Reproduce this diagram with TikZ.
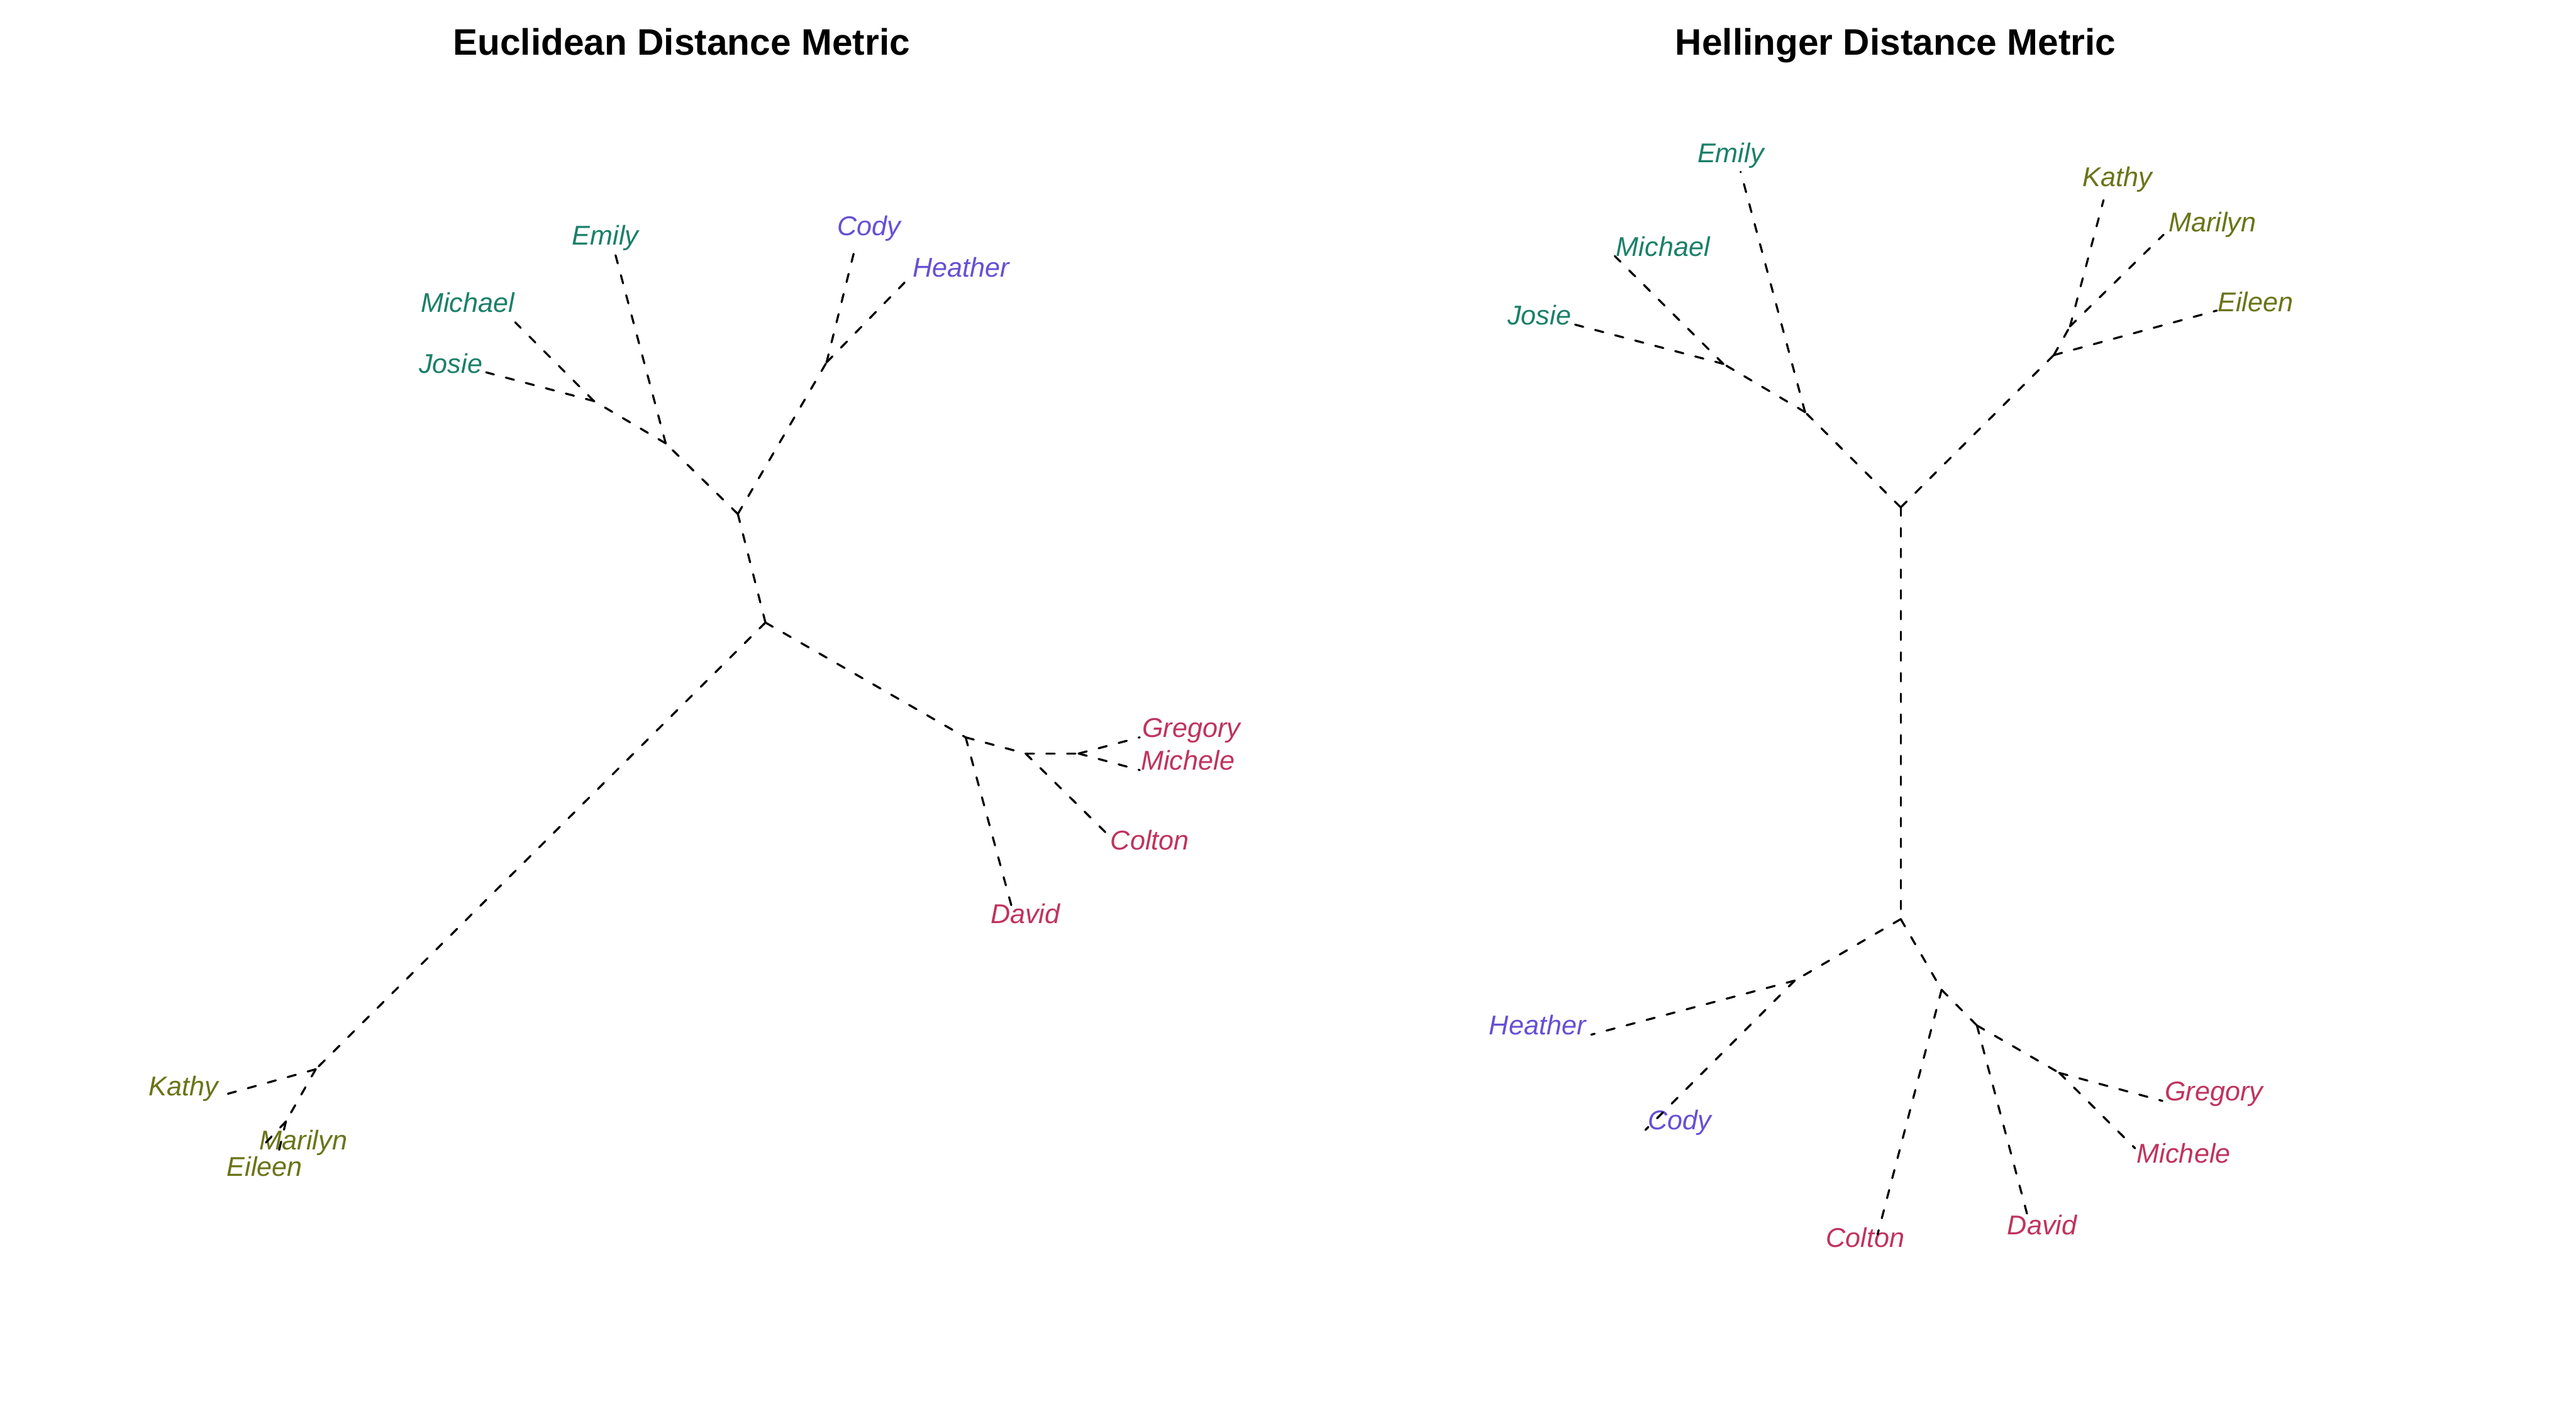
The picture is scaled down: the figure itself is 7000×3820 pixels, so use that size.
\documentclass[tikz,border=0pt]{standalone}
\usepackage{fontspec}
\setmainfont{Liberation Sans}
\definecolor{grpteal}{HTML}{1B8068}
\definecolor{grpviolet}{HTML}{6650D4}
\definecolor{grpred}{HTML}{C0335E}
\definecolor{grpolive}{HTML}{6B7418}

\begin{document}
\begin{tikzpicture}[x=0.01cm, y=-0.01cm,
    edge/.style={draw, line width=1.6pt, line cap=round, dash pattern=on 6.5pt off 9.5pt},
    tiplabel/.style={font=\fontsize{21}{25}\selectfont\itshape, inner sep=0pt, anchor=base west},
    plottitle/.style={font=\fontsize{28.5}{34}\selectfont\bfseries, inner sep=0pt, anchor=base}]
  \useasboundingbox (0,0) rectangle (7000,3820);

  \node[plottitle] (eucTitle) at (1852,150) {Euclidean Distance Metric};
  \node[plottitle] (helTitle) at (5151,150) {Hellinger Distance Metric};

  % Euclidean tree
  \coordinate (eRoot) at (2005,1397);
  \coordinate (eA) at (1809,1205);
  \coordinate (eB) at (1614,1090);
  \coordinate (eD) at (2246,985);
  \coordinate (eE) at (2080,1692);
  \coordinate (eF) at (2624,2004);
  \coordinate (eG) at (2787,2048);
  \coordinate (eH) at (2931,2048);
  \coordinate (eI) at (858,2906);
  \coordinate (eJ) at (777,3048);

  \coordinate (eEmilyTip) at (1672,691);
  \coordinate (eMichaelTip) at (1400,876);
  \coordinate (eJosieTip) at (1321,1012);
  \coordinate (eCodyTip) at (2320,688);
  \coordinate (eHeatherTip) at (2458,768);
  \coordinate (eGregoryTip) at (3097,2004);
  \coordinate (eMicheleTip) at (3097,2093);
  \coordinate (eColtonTip) at (3007,2265);
  \coordinate (eDavidTip) at (2748,2460);
  \coordinate (eKathyTip) at (618,2973);
  \coordinate (eMarilynTip) at (718,3110);
  \coordinate (eEileenTip) at (757,3132);

  \node[tiplabel, grpteal] (eEmily) at (1554,665) {Emily};
  \node[tiplabel, grpteal] (eMichael) at (1143,848) {Michael};
  \node[tiplabel, grpteal] (eJosie) at (1138,1014) {Josie};
  \node[tiplabel, grpviolet] (eCody) at (2274,640) {Cody};
  \node[tiplabel, grpviolet] (eHeather) at (2479,752) {Heather};
  \node[tiplabel, grpred] (eGregory) at (3103,2004) {Gregory};
  \node[tiplabel, grpred] (eMichele) at (3100,2093) {Michele};
  \node[tiplabel, grpred] (eColton) at (3017,2309) {Colton};
  \node[tiplabel, grpred] (eDavid) at (2691,2510) {David};
  \node[tiplabel, grpolive] (eKathy) at (404,2978) {Kathy};
  \node[tiplabel, grpolive] (eMarilyn) at (705,3125) {Marilyn};
  \node[tiplabel, grpolive] (eEileen) at (616,3196) {Eileen};

  \draw[edge] (eRoot) -- (eA);
  \draw[edge] (eRoot) -- (eD);
  \draw[edge] (eRoot) -- (eE);
  \draw[edge] (eA) -- (eB);
  \draw[edge] (eA) -- (eEmilyTip);
  \draw[edge] (eB) -- (eMichaelTip);
  \draw[edge] (eB) -- (eJosieTip);
  \draw[edge] (eD) -- (eCodyTip);
  \draw[edge] (eD) -- (eHeatherTip);
  \draw[edge] (eE) -- (eF);
  \draw[edge] (eE) -- (eI);
  \draw[edge] (eF) -- (eDavidTip);
  \draw[edge] (eF) -- (eG);
  \draw[edge] (eG) -- (eColtonTip);
  \draw[edge] (eG) -- (eH);
  \draw[edge] (eH) -- (eGregoryTip);
  \draw[edge] (eH) -- (eMicheleTip);
  \draw[edge] (eI) -- (eKathyTip);
  \draw[edge] (eI) -- (eJ);
  \draw[edge] (eJ) -- (eMarilynTip);
  \draw[edge] (eJ) -- (eEileenTip);

  % Hellinger tree
  \coordinate (hRoot) at (5165,1379);
  \coordinate (hK) at (4905,1120);
  \coordinate (hL) at (4683,989);
  \coordinate (hO) at (5581,965);
  \coordinate (hN) at (5625,887);
  \coordinate (hP) at (5165,2498);
  \coordinate (hQ) at (4877,2665);
  \coordinate (hR) at (5276,2690);
  \coordinate (hS) at (5372,2787);
  \coordinate (hT) at (5596,2916);

  \coordinate (hEmilyTip) at (4730,467);
  \coordinate (hMichaelTip) at (4388,696);
  \coordinate (hJosieTip) at (4279,882);
  \coordinate (hKathyTip) at (5716,544);
  \coordinate (hMarilynTip) at (5879,638);
  \coordinate (hEileenTip) at (6024,844);
  \coordinate (hHeatherTip) at (4324,2812);
  \coordinate (hCodyTip) at (4471,3071);
  \coordinate (hColtonTip) at (5102,3355);
  \coordinate (hDavidTip) at (5508,3298);
  \coordinate (hGregoryTip) at (5876,2992);
  \coordinate (hMicheleTip) at (5802,3121);

  \node[tiplabel, grpteal] (hEmily) at (4612,442) {Emily};
  \node[tiplabel, grpteal] (hMichael) at (4391,696) {Michael};
  \node[tiplabel, grpteal] (hJosie) at (4096,882) {Josie};
  \node[tiplabel, grpolive] (hKathy) at (5659,507) {Kathy};
  \node[tiplabel, grpolive] (hMarilyn) at (5892,630) {Marilyn};
  \node[tiplabel, grpolive] (hEileen) at (6026,846) {Eileen};
  \node[tiplabel, grpviolet] (hHeather) at (4046,2812) {Heather};
  \node[tiplabel, grpviolet] (hCody) at (4477,3070) {Cody};
  \node[tiplabel, grpred] (hColton) at (4961,3389) {Colton};
  \node[tiplabel, grpred] (hDavid) at (5454,3355) {David};
  \node[tiplabel, grpred] (hGregory) at (5882,2991) {Gregory};
  \node[tiplabel, grpred] (hMichele) at (5806,3160) {Michele};

  \draw[edge] (hRoot) -- (hK);
  \draw[edge] (hRoot) -- (hO);
  \draw[edge] (hRoot) -- (hP);
  \draw[edge] (hK) -- (hL);
  \draw[edge] (hK) -- (hEmilyTip);
  \draw[edge] (hL) -- (hMichaelTip);
  \draw[edge] (hL) -- (hJosieTip);
  \draw[edge] (hO) -- (hN);
  \draw[edge] (hO) -- (hEileenTip);
  \draw[edge] (hN) -- (hKathyTip);
  \draw[edge] (hN) -- (hMarilynTip);
  \draw[edge] (hP) -- (hQ);
  \draw[edge] (hP) -- (hR);
  \draw[edge] (hQ) -- (hHeatherTip);
  \draw[edge] (hQ) -- (hCodyTip);
  \draw[edge] (hR) -- (hColtonTip);
  \draw[edge] (hR) -- (hS);
  \draw[edge] (hS) -- (hDavidTip);
  \draw[edge] (hS) -- (hT);
  \draw[edge] (hT) -- (hGregoryTip);
  \draw[edge] (hT) -- (hMicheleTip);
\end{tikzpicture}
\end{document}
